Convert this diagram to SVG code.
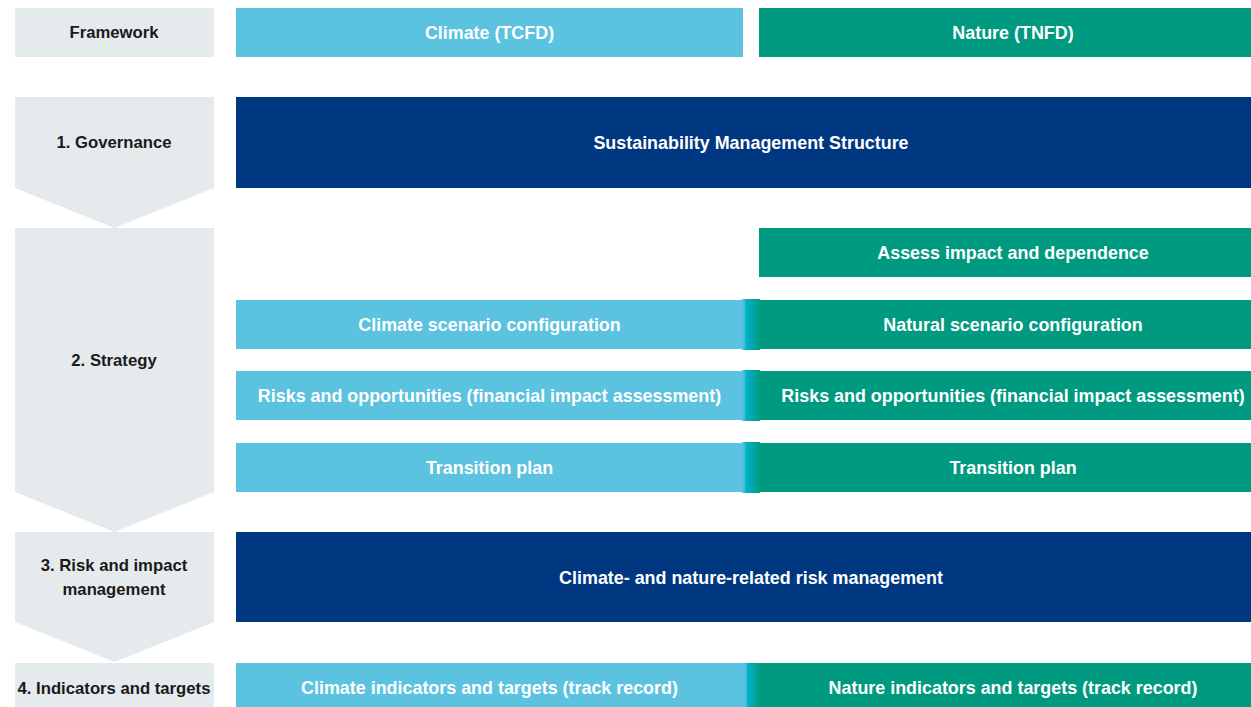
<svg xmlns="http://www.w3.org/2000/svg" width="1251" height="707" viewBox="0 0 1251 707">
  <style>
    .step { fill: #e5eaed; }
    .tcfd { fill: #5bc2e0; }
    .tnfd { fill: #009a80; }
    .core { fill: #003781; }
    .blend { fill: url(#blend); }
    text { font-family: "Liberation Sans", Arial, sans-serif; font-size: 17.9px; font-weight: bold; text-anchor: middle; dominant-baseline: central; }
    .dark { fill: #1a1a1a; font-size: 16.7px; }
    .light { fill: #ffffff; }
  </style>
  <defs>
    <linearGradient id="blend" x1="0" y1="0" x2="1" y2="0">
      <stop offset="0" stop-color="#5bc2e0"/>
      <stop offset="0.12" stop-color="#4cc0dc"/>
      <stop offset="0.22" stop-color="#00b4ca"/>
      <stop offset="1" stop-color="#009a80"/>
    </linearGradient>
  </defs>

  <!-- Header row -->
  <g id="framework">
    <rect class="step" x="15" y="8" width="199" height="49"/>
    <text class="dark" x="114" y="32.5">Framework</text>
  </g>
  <g id="climate-tcfd">
    <rect class="tcfd" x="236" y="8" width="507" height="49"/>
    <text class="light" x="489.5" y="32.5">Climate (TCFD)</text>
  </g>
  <g id="nature-tnfd">
    <rect class="tnfd" x="759" y="8" width="492" height="49"/>
    <text class="light" x="1013" y="32.5">Nature (TNFD)</text>
  </g>

  <!-- Pillar chevrons -->
  <g id="governance">
    <polygon class="step" points="15,97 214,97 214,188 114.5,228 15,188"/>
    <text class="dark" x="114" y="142.5">1. Governance</text>
  </g>
  <g id="strategy">
    <polygon class="step" points="15,228 214,228 214,492 114.5,532 15,492"/>
    <text class="dark" x="114" y="360.5">2. Strategy</text>
  </g>
  <g id="risk-impact-management">
    <polygon class="step" points="15,532 214,532 214,622 114.5,662 15,622"/>
    <text class="dark" x="114" y="565.5">3. Risk and impact</text>
    <text class="dark" x="114" y="589.5">management</text>
  </g>
  <g id="indicators-targets">
    <rect class="step" x="15" y="663" width="199" height="44"/>
    <text class="dark" x="114" y="688">4. Indicators and targets</text>
  </g>

  <!-- Governance -->
  <g id="sustainability-management">
    <rect class="core" x="236" y="97" width="1015" height="91"/>
    <text class="light" x="751" y="142.5">Sustainability Management Structure</text>
  </g>

  <!-- Strategy -->
  <g id="assess-impact">
    <rect class="tnfd" x="759" y="228" width="492" height="49"/>
    <text class="light" x="1013" y="252.5">Assess impact and dependence</text>
  </g>
  <g id="scenario">
    <rect class="tcfd" x="236" y="300" width="507" height="49"/>
    <rect class="tnfd" x="759" y="300" width="492" height="49"/>
    <rect class="blend" x="742" y="299" width="18" height="51"/>
    <text class="light" x="489.5" y="324.5">Climate scenario configuration</text>
    <text class="light" x="1013" y="324.5">Natural scenario configuration</text>
  </g>
  <g id="risks-opportunities">
    <rect class="tcfd" x="236" y="371" width="507" height="49"/>
    <rect class="tnfd" x="759" y="371" width="492" height="49"/>
    <rect class="blend" x="742" y="370" width="18" height="51"/>
    <text class="light" x="489.5" y="396">Risks and opportunities (financial impact assessment)</text>
    <text class="light" x="1013" y="396">Risks and opportunities (financial impact assessment)</text>
  </g>
  <g id="transition-plan">
    <rect class="tcfd" x="236" y="443" width="507" height="49"/>
    <rect class="tnfd" x="759" y="443" width="492" height="49"/>
    <rect class="blend" x="742" y="442" width="18" height="51"/>
    <text class="light" x="489.5" y="467.5">Transition plan</text>
    <text class="light" x="1013" y="467.5">Transition plan</text>
  </g>

  <!-- Risk and impact management -->
  <g id="risk-management">
    <rect class="core" x="236" y="532" width="1015" height="90"/>
    <text class="light" x="751" y="577.5">Climate- and nature-related risk management</text>
  </g>

  <!-- Indicators and targets -->
  <g id="indicators">
    <rect class="tcfd" x="236" y="663" width="509" height="44"/>
    <rect class="tnfd" x="759" y="663" width="492" height="44"/>
    <rect class="blend" x="744" y="663" width="16" height="44"/>
    <text class="light" x="489.5" y="688">Climate indicators and targets (track record)</text>
    <text class="light" x="1013" y="688">Nature indicators and targets (track record)</text>
  </g>
</svg>
